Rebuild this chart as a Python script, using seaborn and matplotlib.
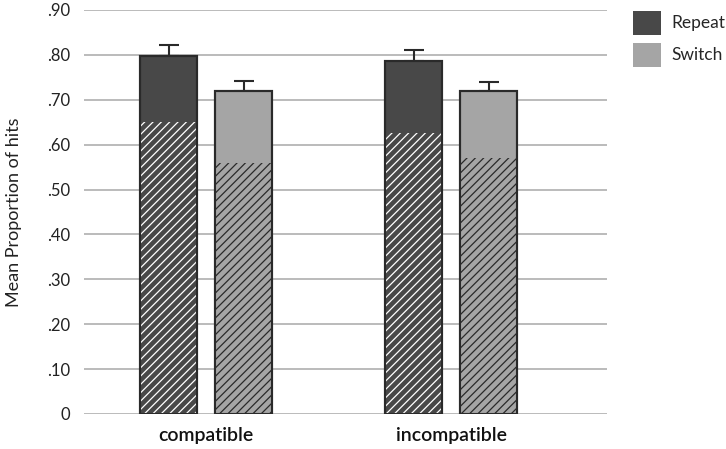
import numpy as np
import pandas as pd
import matplotlib
matplotlib.use("Agg")
import matplotlib.pyplot as plt
import matplotlib.patches as mpatches
import seaborn as sns

conditions = ["compatible", "incompatible"]
trial_types = ["Repeat", "Switch"]
# mean proportion of hits (full bar) and hatched lower portion
repeat_mean = [0.797, 0.787]
switch_mean = [0.720, 0.720]
repeat_err = [0.026, 0.024]
switch_err = [0.021, 0.019]
repeat_hatched = [0.650, 0.625]
switch_hatched = [0.560, 0.570]
yticks = [0, 0.1, 0.2, 0.3, 0.4, 0.5, 0.6, 0.7, 0.8, 0.9]
ytick_labels = ["0", ".10", ".20", ".30", ".40", ".50", ".60", ".70", ".80", ".90"]

colors = {"Repeat": "#484848", "Switch": "#a5a5a5"}
hatch_colors = {"Repeat": "#ffffff", "Switch": "#2a2a2a"}
edge = "#2a2a2a"

df = pd.DataFrame({
    "condition": conditions * 2,
    "type": ["Repeat"] * 2 + ["Switch"] * 2,
    "mean": repeat_mean + switch_mean,
    "err": repeat_err + switch_err,
    "hatched": repeat_hatched + switch_hatched,
})

sns.set_style("white")
plt.rcParams["font.family"] = ["Lato", "DejaVu Sans"]
plt.rcParams["hatch.linewidth"] = 0.9

fig = plt.figure(figsize=(7.26, 4.49), dpi=100)
ax = fig.add_axes([84 / 726, 1 - 414 / 449, (607 - 84) / 726, (414 - 10) / 449])

# full bars
sns.barplot(data=df, x="condition", y="mean", hue="type", order=conditions,
            hue_order=trial_types, palette=colors, width=0.612, gap=0.24,
            errorbar=None, edgecolor=edge, linewidth=1.5, legend=False, ax=ax, zorder=2)
# hatched lower part
sns.barplot(data=df, x="condition", y="hatched", hue="type", order=conditions,
            hue_order=trial_types, palette=colors, width=0.612, gap=0.24,
            errorbar=None, linewidth=0, hatch="////", legend=False, ax=ax, zorder=3)
for cont, t in zip(ax.containers[2:], trial_types):
    for bar in cont:
        bar.set_edgecolor(hatch_colors[t])
        bar.set_linewidth(0)
# redraw outlines on top
sns.barplot(data=df, x="condition", y="mean", hue="type", order=conditions,
            hue_order=trial_types, fill=False, width=0.612, gap=0.24,
            errorbar=None, legend=False, ax=ax, zorder=4)
for cont in ax.containers[4:]:
    for bar in cont:
        bar.set_edgecolor(edge)
        bar.set_linewidth(1.5)

# upper error bars
for cont, t in zip(ax.containers[:2], trial_types):
    sub = df[df["type"] == t]
    xs = [b.get_x() + b.get_width() / 2 for b in cont]
    ax.errorbar(xs, sub["mean"], yerr=[np.zeros(len(sub)), sub["err"]], fmt="none",
                ecolor=edge, elinewidth=1.5, capsize=7, capthick=1.5, zorder=1)

ax.set_ylim(0, 0.9)
ax.set_xlim(-0.5, 1.637)
ax.set_yticks(yticks)
ax.set_yticklabels(ytick_labels, fontsize=12, color="#222222")
ax.tick_params(axis="y", length=0, pad=10)
ax.tick_params(axis="x", length=0, pad=9, labelsize=14)
for lab in ax.get_xticklabels():
    lab.set_color("#111111")
    lab.set_fontweight("semibold")
ax.yaxis.grid(True, color="#b5b5b5", linewidth=1.3)
ax.set_axisbelow(True)
for s in ax.spines.values():
    s.set_visible(False)
ax.set_xlabel("")
ax.set_ylabel("Mean Proportion of hits", fontsize=13, color="#222222")
ax.yaxis.set_label_coords(-0.118, 0.5)

handles = [mpatches.Patch(facecolor=colors[t], edgecolor="none", label=t) for t in trial_types]
fig.legend(handles=handles, loc="upper left", bbox_to_anchor=(621 / 726, 1.003),
           frameon=False, fontsize=12.5, handlelength=1.6, handleheight=1.75,
           handletextpad=0.6, labelspacing=0.45, borderaxespad=0.3)

fig.savefig("out.png", dpi=100)
